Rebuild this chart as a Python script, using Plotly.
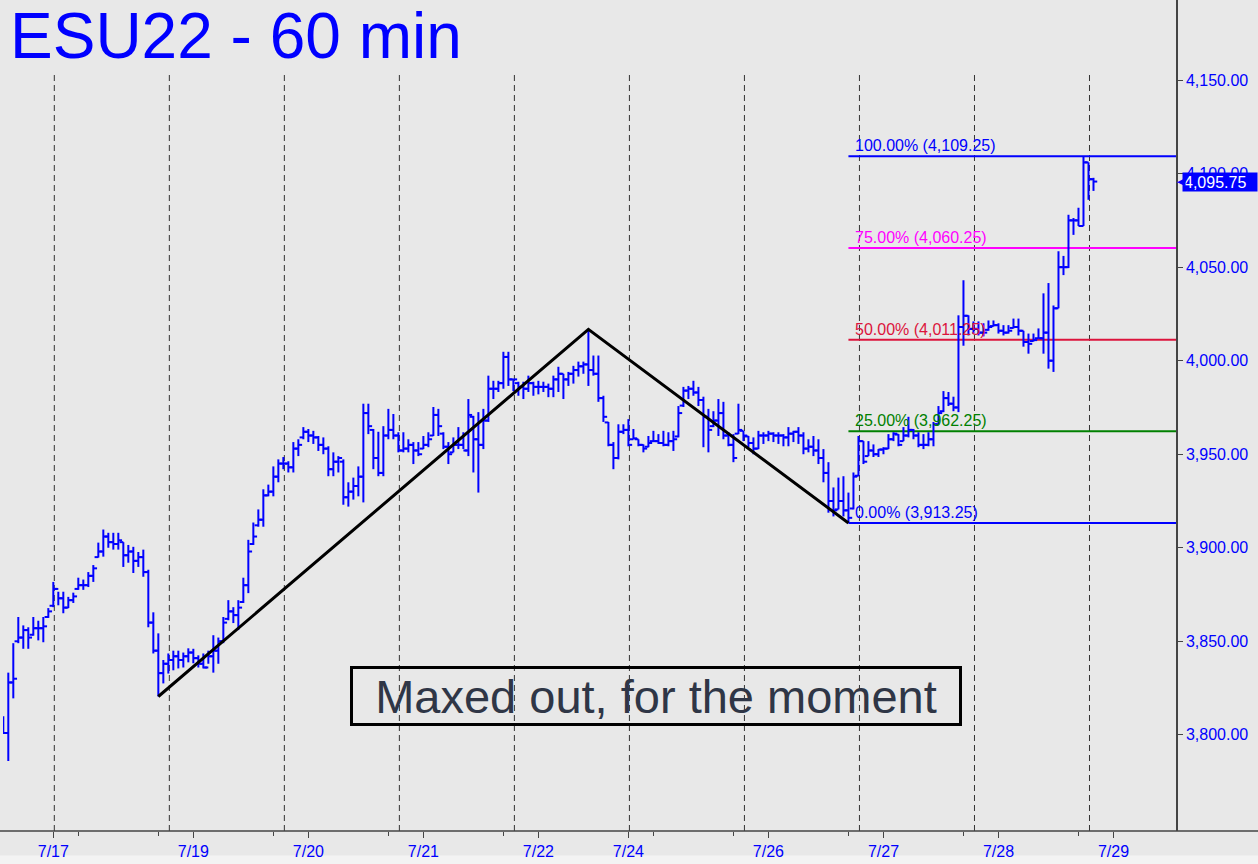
import plotly.graph_objects as go

# hourly ESU22 bars (bar index = hour slot on a session axis)
bar_open = [3808, 3801, 3828, 3850, 3852, 3856, 3853.5, 3857, 3857, 3863,
            3869, 3878, 3873, 3868, 3872, 3878, 3880, 3880, 3885, 3895,
            3898, 3906, 3903, 3902, 3903, 3896, 3898, 3893, 3895, 3887,
            3860, 3845, 3833, 3838, 3840, 3842, 3840, 3842, 3844, 3841,
            3838, 3836, 3842, 3845, 3850, 3862, 3866, 3864, 3871, 3880,
            3902, 3912, 3915, 3928, 3930, 3938, 3945, 3945, 3943, 3953,
            3959, 3962, 3960, 3959, 3955, 3953, 3942, 3946, 3946, 3927,
            3930, 3933, 3938, 3972, 3963, 3948, 3940, 3960, 3963, 3960,
            3952, 3953, 3955, 3952, 3953, 3955, 3960, 3971, 3961, 3954,
            3951, 3955, 3955, 3952, 3970, 3958, 3955, 3968, 3985, 3985,
            3988, 4002, 3990, 3988, 3986, 3985, 3988, 3986, 3986, 3986,
            3985, 3990, 3993, 3990, 3993, 3995, 3997, 3998, 3995, 3993,
            3980, 3967, 3955, 3948, 3962, 3963, 3958, 3958, 3955, 3954,
            3957, 3957, 3956, 3955, 3957, 3959.5, 3976, 3984, 3985, 3983,
            3979, 3970, 3965, 3968, 3972, 3960, 3955, 3961, 3962.5, 3959.5,
            3956, 3953, 3960, 3960, 3961, 3960, 3960, 3959, 3961, 3962,
            3960, 3953, 3954, 3952, 3948, 3940, 3925, 3920.5, 3925, 3920,
            3921, 3938.5, 3957, 3949, 3952, 3950, 3952.5, 3953, 3958, 3960.5,
            3957, 3960, 3963, 3960, 3955, 3955, 3958, 3966, 3973, 3980,
            3977, 3975, 4018, 4024, 4017, 4017, 4015, 4016.5, 4018.5, 4019,
            4016, 4015, 4017.5, 4018, 4016, 4010, 4010.5, 4012, 4012, 4015,
            4000, 4028, 4050, 4050, 4075, 4075, 4072, 4106, 4097]
bar_high = [3810, 3833.25, 3849, 3863, 3858.5, 3857.5, 3863, 3861, 3863, 3867.75,
            3881.75, 3876.5, 3876.5, 3873.75, 3876, 3884, 3883, 3887, 3890.75, 3902.75,
            3909.75, 3908, 3908, 3908, 3903, 3901.5, 3900.5, 3897.75, 3899, 3888.25,
            3865.5, 3854.25, 3840, 3843.5, 3845, 3845, 3844, 3846.25, 3846, 3842.5,
            3843.5, 3845, 3853.25, 3852, 3863, 3872, 3868.25, 3872, 3884, 3904.25,
            3913.5, 3920.5, 3931.25, 3933.75, 3943.5, 3947.25, 3948.5, 3946.25, 3956.5, 3958,
            3964.5, 3963.5, 3962.5, 3959.75, 3959, 3954.25, 3951, 3949, 3947.25, 3935,
            3937.5, 3943.5, 3977, 3977, 3963.5, 3962, 3965, 3974.25, 3971.5, 3961.75,
            3961.75, 3958, 3956.5, 3956.5, 3959.75, 3961.75, 3975.25, 3974.25, 3961.75, 3956.5,
            3959, 3964.5, 3961.75, 3979.5, 3970.5, 3972.5, 3974.25, 3992, 3989.25, 3989.25,
            4004.75, 4004.75, 3990.25, 3988.75, 3988.75, 3992, 3988.75, 3989.25, 3988.75, 3987.75,
            3992, 3996.75, 3993, 3994, 3997.25, 3999.5, 3999.5, 4016.75, 4002.75, 4002.75,
            3981.25, 3967.25, 3956.5, 3966, 3966, 3968.75, 3963.5, 3958, 3955.25, 3959.75,
            3962.5, 3960.75, 3962.5, 3961.75, 3962.5, 3975.75, 3986, 3986.5, 3989.25, 3986,
            3980.75, 3974.25, 3973, 3979.5, 3978, 3961.75, 3960.75, 3977, 3962.5, 3959.75,
            3959, 3962.5, 3961.75, 3962.5, 3961.75, 3961.75, 3960.75, 3964.5, 3962.5, 3964.5,
            3961.75, 3958, 3959.75, 3958, 3952.75, 3945.75, 3932.25, 3937.5, 3938.25, 3929.5,
            3940.25, 3959.75, 3957, 3957, 3955.25, 3952.75, 3953.75, 3960.75, 3961.75, 3960.75,
            3964.5, 3970, 3963.5, 3961.75, 3960.75, 3961.75, 3967.25, 3975.75, 3983.75, 3983.25,
            3980.75, 4024.25, 4043, 4024.25, 4021, 4021, 4020, 4021.5, 4021.5, 4020,
            4019, 4019, 4022.5, 4022.5, 4016, 4014.5, 4014.5, 4017.25, 4036, 4041.5,
            4029.5, 4058.5, 4056, 4078, 4076.25, 4081.75, 4109.25, 4106, 4097.75]
bar_low = [3800.5, 3786, 3819.5, 3849, 3846, 3846, 3853, 3850.5, 3849.5, 3862.5,
           3868.25, 3869.25, 3865, 3867.75, 3870.5, 3877.5, 3877.5, 3879, 3881.75, 3894.75,
           3895.25, 3900, 3899, 3899, 3889.75, 3892, 3886.5, 3889.75, 3884.5, 3857.5,
           3843.5, 3820.5, 3827.5, 3832.75, 3834.5, 3835.5, 3836, 3838.75, 3838.25, 3836,
           3835.5, 3838, 3833.25, 3838, 3849, 3861.25, 3859.75, 3856, 3870.5, 3875.75,
           3901.5, 3911.25, 3911.25, 3927.5, 3927.5, 3935, 3942, 3940.25, 3940.25, 3949,
           3958, 3956.5, 3955.5, 3951.75, 3950, 3938.25, 3938.25, 3940.25, 3923, 3922,
           3925.75, 3927.5, 3924.25, 3960.75, 3942, 3938.25, 3938.25, 3958, 3958, 3951,
           3951, 3951, 3944.75, 3949, 3952.75, 3953.75, 3959.75, 3959.75, 3952.75, 3944.75,
           3951, 3952.75, 3952.75, 3949, 3940.25, 3929.5, 3952.75, 3967.25, 3979.5, 3983.25,
           3985, 3986.5, 3983.75, 3981.25, 3979.5, 3983.25, 3981.25, 3982, 3983.25, 3980.5,
           3980.5, 3983.25, 3979.5, 3986.5, 3987.75, 3991.5, 3993, 3986.5, 3992, 3978,
           3967.25, 3954.25, 3942, 3947.25, 3960.75, 3954.25, 3958, 3954.25, 3951, 3953.75,
           3956.5, 3955.5, 3954.25, 3954.25, 3951.75, 3959, 3975.25, 3979.5, 3981.25, 3975.75,
           3953.75, 3951, 3964.5, 3959.75, 3958, 3954.25, 3945.75, 3960.75, 3957, 3953.75,
           3950, 3952.75, 3955.5, 3957, 3956.5, 3955.5, 3954.25, 3954.25, 3956.5, 3955.5,
           3950, 3951, 3949, 3944.75, 3935, 3918.75, 3916.75, 3920.5, 3916.75, 3913.25,
           3920.5, 3938.25, 3944.75, 3949, 3948.5, 3948.5, 3950, 3952.75, 3957, 3954.25,
           3957, 3959, 3958, 3953.75, 3952.75, 3954.25, 3954.25, 3966, 3972.5, 3975.75,
           3973, 3972.5, 4008, 4013.5, 4014.5, 4013.5, 4013, 4016, 4018.25, 4014.5,
           4013.5, 4014.5, 4017.25, 4013.5, 4007.5, 4003.75, 4010.25, 4011.75, 4003.75, 3995.75,
           3994, 4028, 4045.75, 4049.5, 4067.25, 4072, 4072, 4086, 4090.75]
bar_close = [3801, 3828, 3830, 3852, 3856, 3852, 3857, 3857, 3858, 3866,
             3878, 3873, 3868, 3872, 3874, 3880, 3880, 3885, 3889, 3898,
             3906, 3903, 3902, 3904, 3896, 3898, 3893, 3895, 3887, 3860,
             3845, 3833, 3838, 3840, 3842, 3840, 3842, 3844, 3841, 3838,
             3836, 3842, 3845, 3850, 3860, 3866, 3864, 3868, 3880, 3898,
             3906, 3915, 3928, 3930, 3938, 3945, 3945, 3943, 3953, 3955,
             3962, 3960, 3959, 3955, 3953, 3942, 3946, 3948, 3927, 3930,
             3933, 3938, 3972, 3965, 3948, 3940, 3960, 3963, 3960, 3952,
             3953, 3955, 3952, 3950, 3955, 3958, 3971, 3965, 3954, 3950,
             3955, 3955, 3952, 3971, 3958, 3955, 3968, 3985, 3985, 3988,
             4002, 3990, 3990, 3986, 3985, 3988, 3986, 3986, 3986, 3985,
             3990, 3993, 3990, 3993, 3995, 3997, 3998, 3995, 3993, 3980,
             3970, 3955, 3948, 3962, 3963, 3955, 3958.5, 3955, 3953, 3956,
             3957, 3956, 3955, 3957, 3958, 3972, 3984, 3985, 3983, 3979,
             3970, 3963, 3968, 3972, 3960, 3955, 3948, 3963, 3960, 3956,
             3953, 3960, 3960, 3961, 3960, 3960, 3959, 3961, 3962, 3960,
             3953, 3954, 3952, 3948, 3940, 3925, 3920, 3925, 3920, 3916,
             3938, 3957, 3946, 3952, 3950, 3952.5, 3953, 3958, 3961, 3955,
             3960, 3963, 3960, 3955, 3955, 3958, 3966, 3972, 3980, 3977,
             3975, 4018, 4024, 4017, 4017, 4015, 4015, 4018, 4019, 4016,
             4015, 4016, 4018, 4016, 4010, 4009, 4011, 4012, 4015, 4000,
             4028, 4050, 4050, 4075, 4075, 4072, 4106, 4097, 4095.75]

# date labels on the session axis
tick_labels = ["7/17", "7/19", "7/20", "7/21", "7/22", "7/24", "7/26", "7/27", "7/28", "7/29"]
tick_bars = [10, 38, 61, 84, 107, 125, 153, 176, 199, 222]
minor_tick_bars = [15, 31, 54, 77, 100, 130, 146, 169, 192, 215]
session_starts = [10, 33, 56, 79, 102, 125, 148, 171, 194, 217]

fib_pcts = [0, 25, 50, 75, 100]
fib_colors = ["#0000ff", "#008000", "#dc143c", "#ff00ff", "#0000ff"]

x_range = [-0.06, 234.5]
y_range = [3748.6, 4192.8]
bg = "#e8e8e8"
tick_half = 0.75


def pivot(values, lo, hi, fn):
    seg = values[lo:hi + 1]
    v = fn(seg)
    return lo + seg.index(v), v


# ABC swing drawn on the chart
a_i, a_p = pivot(bar_low, 20, 60, min)
b_i, b_p = pivot(bar_high, 90, 130, max)
c_i, c_p = pivot(bar_low, 150, 185, min)
d_i, d_p = pivot(bar_high, 200, len(bar_high) - 1, max)

# classic OHLC bars: left tick = open, right tick = close
bx, by = [], []
for i, (o, h, l, c) in enumerate(zip(bar_open, bar_high, bar_low, bar_close)):
    bx += [i - tick_half, i, None, i, i, None, i, i + tick_half, None]
    by += [o, o, None, h, l, None, c, c, None]

fig = go.Figure()

fig.add_trace(go.Scatter(
    x=bx, y=by, mode="lines", line=dict(color="#0000ff", width=2),
    hoverinfo="skip", showlegend=False))

fig.add_trace(go.Scatter(
    x=[a_i, b_i, c_i], y=[a_p, b_p, c_p], mode="lines",
    line=dict(color="black", width=3), hoverinfo="skip", showlegend=False))

shapes = []
for s in session_starts:
    shapes.append(dict(type="line", xref="x", yref="paper", x0=s + 0.2, x1=s + 0.2,
                       y0=0, y1=0.913, line=dict(color="#333333", width=1, dash="6px,4px"),
                       layer="below"))

annotations = []
for pct, col in zip(fib_pcts, fib_colors):
    lvl = c_p + (d_p - c_p) * pct / 100
    shapes.append(dict(type="line", xref="x", yref="y", x0=c_i, x1=x_range[1],
                       y0=lvl, y1=lvl, line=dict(color=col, width=2), layer="below"))
    annotations.append(dict(x=c_i, y=lvl, xref="x", yref="y", xanchor="left", yanchor="bottom",
                            xshift=5, yshift=0, showarrow=False,
                            text=f"{pct:.2f}% ({lvl:,.2f})",
                            font=dict(family="Liberation Sans, Arial", size=16, color=col)))

# full-width bottom axis line and scrollbar strip
shapes.append(dict(type="line", xref="paper", yref="paper", x0=-0.01, x1=1.08, y0=0, y1=0,
                   line=dict(color="#444444", width=1.5)))
shapes.append(dict(type="rect", xref="paper", yref="paper", x0=-0.01, x1=1.08,
                   y0=-0.0397, y1=-0.0295, fillcolor="#f3f3f3", line=dict(width=0),
                   layer="below"))

# last price tag with its pointer on the price axis
last = bar_close[-1]
annotations.append(dict(x=1.0055, y=last, xref="paper", yref="y", xanchor="left", yanchor="middle",
                        showarrow=False, text=f"{last:,.2f}", bgcolor="#0000ff", width=72, height=16,
                        align="left", borderpad=1,
                        font=dict(family="Liberation Sans, Arial", size=16, color="white")))
annotations.append(dict(x=1.0, y=last, xref="paper", yref="y", xanchor="left", yanchor="middle",
                        xshift=-1, showarrow=False, text="\u25c0",
                        font=dict(family="DejaVu Sans", size=11, color="#0000ff")))

annotations.append(dict(x=0.0043, y=1.0, xref="paper", yref="paper", xanchor="left", yanchor="top",
                        yshift=2, showarrow=False, text="ESU22 - 60 min",
                        font=dict(family="Liberation Sans, Arial", size=64, color="#0000ff")))

annotations.append(dict(x=0.5567, y=0.162, xref="paper", yref="paper", xanchor="center",
                        yanchor="middle", showarrow=False, text="Maxed out, for the moment",
                        width=606, height=54, borderpad=0, borderwidth=3, bordercolor="black",
                        font=dict(family="Liberation Sans, Arial", size=47, color="#2f3646")))

fig.update_layout(
    width=1258, height=864,
    margin=dict(l=3, r=82, t=0, b=33),
    paper_bgcolor=bg, plot_bgcolor=bg,
    shapes=shapes, annotations=annotations,
    showlegend=False,
    font=dict(family="Liberation Sans, Arial", size=16, color="#0000ff"),
)
fig.update_xaxes(
    range=x_range, showgrid=False, zeroline=False,
    tickmode="array", tickvals=tick_bars, ticktext=tick_labels,
    ticks="outside", ticklen=6, tickcolor="#444444", showline=False,
    tickfont=dict(size=16, color="#0000ff"),
    minor=dict(tickmode="array", tickvals=minor_tick_bars, ticks="outside", ticklen=4,
               tickcolor="#444444"),
)
fig.update_yaxes(
    range=y_range, side="right", showgrid=False, zeroline=False,
    tickmode="array", tickvals=[3800, 3850, 3900, 3950, 4000, 4050, 4100, 4150],
    tickformat=",.2f", ticks="outside", ticklen=5, tickcolor="#444444",
    showline=True, linecolor="#444444", linewidth=1.5,
    tickfont=dict(size=16, color="#0000ff"),
)

# page body margin would push the 1258x864 figure off the window
fig.write_html("out.html", config={"displayModeBar": False},
               post_script="document.body.style.margin='0';")
